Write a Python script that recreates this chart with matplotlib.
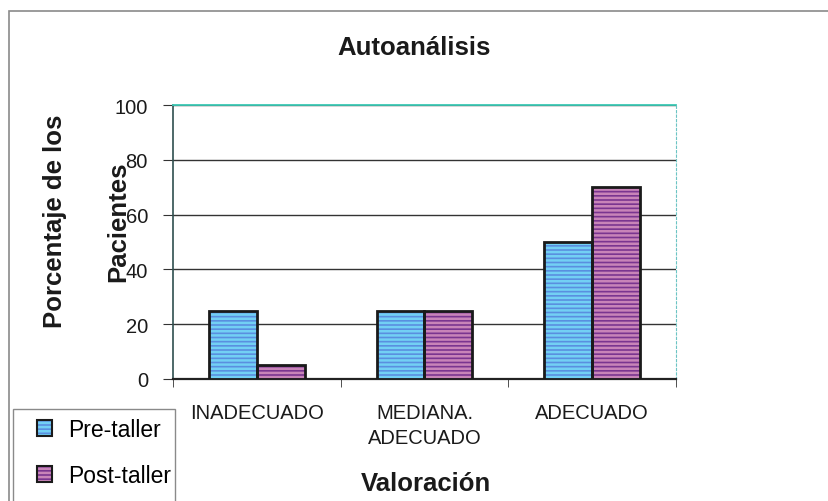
import matplotlib.pyplot as plt
import matplotlib.patches as mpatches
import numpy as np

# Datos del gráfico
categorias = ["INADECUADO", "MEDIANA.\nADECUADO", "ADECUADO"]
pre_taller = [25, 25, 50]
post_taller = [5, 25, 70]
series = ["Pre-taller", "Post-taller"]

plt.rcParams["font.family"] = ["Liberation Sans", "DejaVu Sans"]
plt.rcParams["hatch.linewidth"] = 1.8

# colores: fondo, rayas
COL_PRE = ("#5a8fe0", "#72d0f4")
COL_POST = ("#7a3590", "#c884b8")
BORDE = "#1a1a1a"

fig = plt.figure(figsize=(8.29, 5.02), dpi=100)
W, H = 829, 502

def fx(px):
    return px / W

def fy(py):
    return 1 - py / H

# marco exterior
fig.patches.append(mpatches.Rectangle((fx(9), fy(560)), 1.2, fy(12) - fy(560),
                                      transform=fig.transFigure, fill=False,
                                      edgecolor="#8a8a8a", linewidth=1.2))

ax = fig.add_axes([fx(173), fy(380), fx(676) - fx(173), fy(106) - fy(380)])

x = np.arange(len(categorias))
ancho = 0.286

def barras(pos, vals, cols):
    ax.bar(pos, vals, ancho, color=cols[0], edgecolor=cols[1], hatch="----",
           linewidth=0, zorder=3)
    ax.bar(pos, vals, ancho, fill=False, edgecolor=BORDE, linewidth=2, zorder=4)

barras(x - ancho / 2, pre_taller, COL_PRE)
barras(x + ancho / 2, post_taller, COL_POST)

ax.set_xlim(-0.5, 2.5)
ax.set_ylim(0, 100)
ax.set_yticks(range(0, 101, 20))
ax.yaxis.grid(True, color="#333333", linewidth=1)
ax.set_axisbelow(True)
ax.tick_params(axis="y", labelsize=14.5, length=7, pad=11, color="#333333",
               labelcolor="#1a1a1a")

ax.set_xticks(x)
ax.set_xticklabels(categorias, linespacing=1.4)
ax.set_xticks([-0.5, 0.5, 1.5, 2.5], minor=True)
ax.tick_params(axis="x", which="major", length=0, labelsize=14.5, pad=17,
               labelcolor="#1a1a1a")
ax.tick_params(axis="x", which="minor", length=6, color="#333333")

ax.spines["top"].set_color("#3cc8b4")
ax.spines["top"].set_linewidth(1.3)
ax.spines["left"].set_color("#2f4f4f")
ax.spines["left"].set_linewidth(1.2)
ax.spines["bottom"].set_color("#222222")
ax.spines["bottom"].set_linewidth(1.6)
ax.spines["right"].set_color("#6cc4c4")
ax.spines["right"].set_linestyle((0, (2, 2)))

# títulos
fig.text(fx(414), fy(48), "Autoanálisis", fontsize=18.5, fontweight="bold",
         ha="center", va="center", color="#1a1a1a")
fig.text(fx(426), fy(484), "Valoración", fontsize=18.5, fontweight="bold",
         ha="center", va="center", color="#1a1a1a")
fig.text(fx(55), fy(221), "Porcentaje de los", fontsize=18.5, fontweight="bold",
         rotation=90, ha="center", va="center", color="#1a1a1a")
fig.text(fx(118), fy(222), "Pacientes", fontsize=18.5, fontweight="bold",
         rotation=90, ha="center", va="center", color="#1a1a1a")

# leyenda
fig.patches.append(mpatches.Rectangle((fx(13), fy(560)), fx(175) - fx(13), fy(410) - fy(560),
                                      transform=fig.transFigure, fill=False,
                                      edgecolor="#8a8a8a", linewidth=1.0))
handles = []
for cols in (COL_PRE, COL_POST):
    relleno = mpatches.Patch(facecolor=cols[0], edgecolor=cols[1], hatch="----", linewidth=0)
    borde = mpatches.Patch(fill=False, edgecolor=BORDE, linewidth=1.5)
    handles.append((relleno, borde))
fig.legend(handles, series, loc="upper left", bbox_to_anchor=(fx(37), fy(419)),
           frameon=False, fontsize=16.5, handlelength=0.65, handleheight=0.65,
           handletextpad=0.7, labelspacing=1.0, borderpad=0, borderaxespad=0)

fig.savefig("out.png", dpi=100)
